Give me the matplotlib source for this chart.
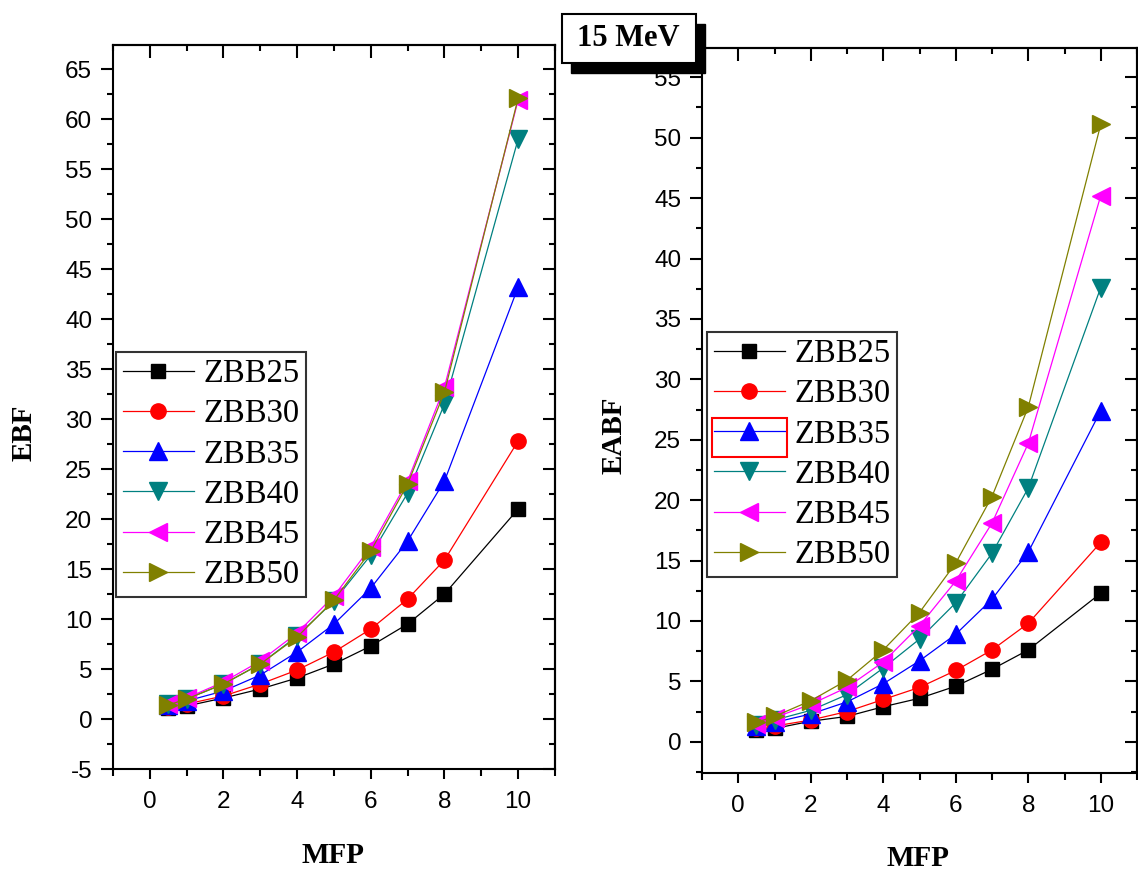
import numpy as np
import matplotlib.pyplot as plt
from matplotlib.patches import Rectangle
from matplotlib.ticker import MultipleLocator

plt.rcParams['axes.unicode_minus'] = False

mfp = [0.5, 1, 2, 3, 4, 5, 6, 7, 8, 10]
names = ['ZBB25', 'ZBB30', 'ZBB35', 'ZBB40', 'ZBB45', 'ZBB50']

# EBF (left panel)
ebf_25 = [1.1, 1.3, 2.1, 3.0, 4.1, 5.5, 7.3, 9.5, 12.5, 21.0]
ebf_30 = [1.2, 1.5, 2.3, 3.5, 4.9, 6.7, 9.0, 12.0, 15.9, 27.8]
ebf_35 = [1.4, 1.8, 2.8, 4.4, 6.7, 9.5, 13.1, 17.8, 23.8, 43.2]
ebf_40 = [1.5, 2.0, 3.5, 5.5, 8.3, 11.8, 16.4, 22.6, 31.5, 58.0]
ebf_45 = [1.5, 2.1, 3.7, 5.8, 8.6, 12.3, 17.2, 23.8, 33.2, 61.9]
ebf_50 = [1.4, 2.0, 3.5, 5.5, 8.2, 11.9, 16.8, 23.5, 32.7, 62.1]

# EABF (right panel)
eabf_25 = [1.0, 1.1, 1.7, 2.1, 2.9, 3.6, 4.6, 6.0, 7.6, 12.3]
eabf_30 = [1.1, 1.3, 1.8, 2.5, 3.5, 4.5, 5.9, 7.6, 9.8, 16.5]
eabf_35 = [1.3, 1.6, 2.3, 3.3, 4.8, 6.7, 8.9, 11.8, 15.7, 27.4]
eabf_40 = [1.4, 1.8, 2.6, 3.9, 6.1, 8.5, 11.5, 15.6, 21.0, 37.6]
eabf_45 = [1.5, 2.0, 3.1, 4.5, 6.6, 9.6, 13.3, 18.1, 24.7, 45.2]
eabf_50 = [1.6, 2.1, 3.4, 5.1, 7.6, 10.7, 14.8, 20.3, 27.7, 51.1]

colors = ['black', 'red', 'blue', '#008080', 'magenta', '#808000']
markers = ['s', 'o', '^', 'v', '<', '>']
msizes = [10.5, 11, 13, 13, 13, 13]

W, H = 1138, 871
fig = plt.figure(figsize=(W / 100, H / 100), dpi=100)

tick_font = {'family': 'Liberation Sans', 'size': 17.5}
label_font = {'family': 'Liberation Serif', 'size': 21, 'weight': 'bold'}


def style_axes(ax):
    for sp in ax.spines.values():
        sp.set_linewidth(1.5)
    ax.xaxis.set_major_locator(MultipleLocator(2))
    ax.xaxis.set_minor_locator(MultipleLocator(1))
    ax.yaxis.set_major_locator(MultipleLocator(5))
    ax.yaxis.set_minor_locator(MultipleLocator(2.5))
    ax.tick_params(axis='x', which='both', direction='out', top=False, width=1.5)
    ax.tick_params(axis='x', which='major', length=7, pad=9)
    ax.tick_params(axis='x', which='minor', length=5)
    ax.tick_params(axis='y', which='both', direction='out', right=False, width=1.5)
    ax.tick_params(axis='y', which='major', length=9, pad=6)
    ax.tick_params(axis='y', which='minor', length=4.5)
    for lab in ax.get_xticklabels() + ax.get_yticklabels():
        lab.set_fontfamily(tick_font['family'])
        lab.set_fontsize(tick_font['size'])
    # mirrored ticks on top / right, pointing inside
    top = ax.secondary_xaxis('top')
    top.xaxis.set_major_locator(MultipleLocator(2))
    top.xaxis.set_minor_locator(MultipleLocator(1))
    top.tick_params(which='both', direction='in', labeltop=False, width=1.5)
    top.tick_params(which='major', length=9)
    top.tick_params(which='minor', length=4.5)
    top.spines['top'].set_linewidth(1.5)
    right = ax.secondary_yaxis('right')
    right.yaxis.set_major_locator(MultipleLocator(5))
    right.yaxis.set_minor_locator(MultipleLocator(2.5))
    right.tick_params(which='both', direction='in', labelright=False, width=1.5)
    right.tick_params(which='major', length=9)
    right.tick_params(which='minor', length=4.5)
    right.spines['right'].set_linewidth(1.5)


def draw(ax, series, legend_anchor):
    for vals, name, c, m, ms in zip(series, names, colors, markers, msizes):
        ax.plot(mfp, vals, color=c, marker=m, markersize=ms, linewidth=0.9,
                label=name)
    ax.set_xlim(-1, 11)
    leg = ax.legend(loc='upper left', bbox_to_anchor=legend_anchor,
                    bbox_transform=fig.transFigure, borderaxespad=0,
                    prop={'family': 'Liberation Serif', 'size': 23.5},
                    frameon=True, fancybox=False, handlelength=2.2,
                    handletextpad=0.28, borderpad=0.2, labelspacing=0.3)
    leg.get_frame().set_edgecolor('black')
    leg.get_frame().set_linewidth(1.5)


def place_labels(ax, xl, yl, xpos, ypos):
    ax.set_xlabel(xl, fontdict=label_font)
    ax.set_ylabel(yl, fontdict=label_font)
    ax.xaxis.label.set_va('center')
    ax.xaxis.set_label_coords(*xpos)
    ax.yaxis.set_label_coords(*ypos)


ax1 = fig.add_axes([113 / W, 1 - 769 / H, 442 / W, 724 / H])
draw(ax1, [ebf_25, ebf_30, ebf_35, ebf_40, ebf_45, ebf_50],
     (116 / W, 1 - 352 / H))
ax1.set_ylim(-5, 67.4)
style_axes(ax1)
place_labels(ax1, 'MFP', 'EBF', (0.498, -0.12), (-0.17, 0.464))

ax2 = fig.add_axes([702 / W, 1 - 772.7 / H, 435 / W, 724.4 / H])
draw(ax2, [eabf_25, eabf_30, eabf_35, eabf_40, eabf_45, eabf_50],
     (707 / W, 1 - 332 / H))
ax2.set_ylim(-2.56, 57.4)
style_axes(ax2)
place_labels(ax2, 'MFP', 'EABF', (0.497, -0.118), (-0.17, 0.466))

# red selection box around the ZBB35 legend handle
fig.add_artist(Rectangle((712 / W, 1 - 457 / H), 75 / W, 39 / H,
                         transform=fig.transFigure, fill=False,
                         edgecolor='red', linewidth=1.5, zorder=5))

# "15 MeV" box with shadow
fig.add_artist(Rectangle((571 / W, 1 - 73 / H), 134 / W, 49 / H,
                         transform=fig.transFigure, facecolor='black',
                         edgecolor='black', zorder=5))
fig.add_artist(Rectangle((562 / W, 1 - 63 / H), 134 / W, 49 / H,
                         transform=fig.transFigure, facecolor='white',
                         edgecolor='black', linewidth=1.5, zorder=6))
fig.text(628 / W, 1 - 39 / H, '15 MeV', ha='center', va='center',
         family='Liberation Serif', weight='bold', size=22, zorder=7)

fig.savefig('out.png', dpi=100)
